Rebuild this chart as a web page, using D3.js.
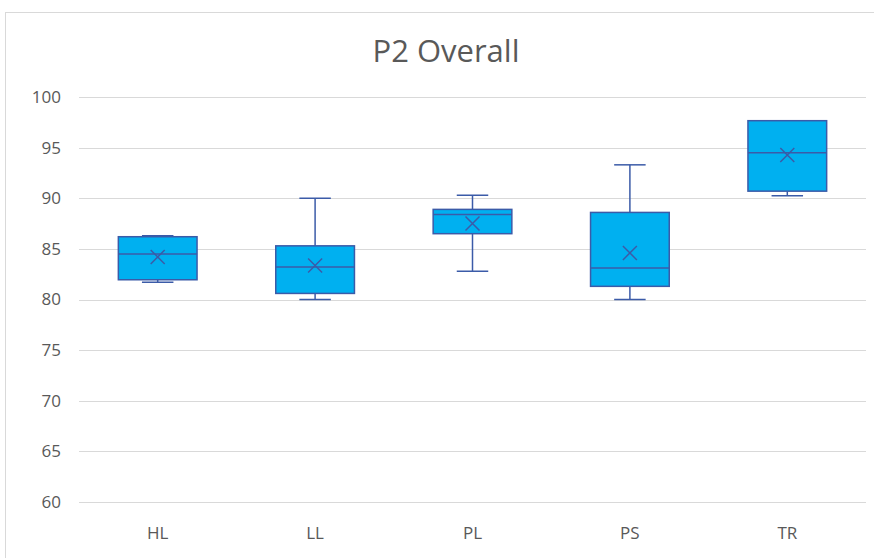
<!DOCTYPE html>
<html><head><meta charset="utf-8">
<script src="https://cdn.jsdelivr.net/npm/d3@7"></script>
<style>body{margin:0;background:#fff;} svg{display:block;}</style>
</head><body>
<svg id="c" width="874" height="558"></svg>
<script>
const categories = ["HL","LL","PL","PS","TR"];
const minVals    = [81.7, 80.0, 82.8, 80.0, 90.25];
const q1Vals     = [81.95, 80.6, 86.5, 81.3, 90.7];
const medianVals = [84.5, 83.2, 88.4, 83.1, 94.5];
const q3Vals     = [86.2, 85.3, 88.9, 88.6, 97.66];
const maxVals    = [86.3, 90.0, 90.3, 93.3, 97.66];
const meanVals   = [84.2, 83.35, 87.5, 84.6, 94.27];
const yTicks     = [60,65,70,75,80,85,90,95,100];
const title      = "P2 Overall";

(function(){
const svg = d3.select("#c");
const font = "'Open Sans', 'Noto Sans', sans-serif";
const textColor = "#595959";
const pLeft = 79, pRight = 866, pTop = 97, pBottom = 502;

svg.append("rect").attr("x",5.5).attr("y",12.5).attr("width",880).attr("height",560)
  .attr("fill","#fff").attr("stroke","#d9d9d9");

svg.append("text").attr("x",446).attr("y",62).attr("text-anchor","middle")
  .attr("font-family",font).attr("font-size",31).attr("fill",textColor).text(title);

const x = d3.scaleBand().domain(categories).range([pLeft,pRight]);
const y = d3.scaleLinear().domain([60,100]).range([pBottom,pTop]);

svg.append("g").selectAll("line").data(yTicks).join("line")
  .attr("x1",pLeft).attr("x2",pRight)
  .attr("y1",d=>Math.round(y(d))+0.5).attr("y2",d=>Math.round(y(d))+0.5)
  .attr("stroke","#d9d9d9").attr("stroke-width",1);

const yAxis = svg.append("g").attr("transform",`translate(${pLeft},0)`)
  .call(d3.axisLeft(y).tickValues(yTicks).tickSize(0).tickPadding(18));
yAxis.select(".domain").remove();
yAxis.selectAll("text").attr("font-family",font).attr("font-size",17).attr("fill",textColor);

const xAxis = svg.append("g").attr("transform",`translate(0,${pBottom})`)
  .call(d3.axisBottom(x).tickSize(0).tickPadding(25));
xAxis.select(".domain").remove();
xAxis.selectAll("text").attr("font-family",font).attr("font-size",17).attr("fill",textColor);

const stroke = "#3b5ba8";
const boxW = x.bandwidth()*0.5;
const capW = boxW*0.4;
const data = categories.map((c,i)=>({c,min:minVals[i],q1:q1Vals[i],med:medianVals[i],q3:q3Vals[i],max:maxVals[i],mean:meanVals[i]}));

const g = svg.append("g").selectAll("g").data(data).join("g")
  .attr("transform",d=>`translate(${x(d.c)+x.bandwidth()/2},0)`);

g.append("line").attr("x1",0).attr("x2",0).attr("y1",d=>y(d.max)).attr("y2",d=>y(d.q3))
  .attr("stroke",stroke).attr("stroke-width",1.5);
g.append("line").attr("x1",0).attr("x2",0).attr("y1",d=>y(d.q1)).attr("y2",d=>y(d.min))
  .attr("stroke",stroke).attr("stroke-width",1.5);
g.append("line").attr("x1",-capW/2).attr("x2",capW/2).attr("y1",d=>y(d.max)).attr("y2",d=>y(d.max))
  .attr("stroke",stroke).attr("stroke-width",1.5);
g.append("line").attr("x1",-capW/2).attr("x2",capW/2).attr("y1",d=>y(d.min)).attr("y2",d=>y(d.min))
  .attr("stroke",stroke).attr("stroke-width",1.5);

g.append("rect").attr("x",-boxW/2).attr("width",boxW)
  .attr("y",d=>y(d.q3)).attr("height",d=>y(d.q1)-y(d.q3))
  .attr("fill","#00b0f0").attr("stroke",stroke).attr("stroke-width",1.5);
g.append("line").attr("x1",-boxW/2).attr("x2",boxW/2).attr("y1",d=>y(d.med)).attr("y2",d=>y(d.med))
  .attr("stroke",stroke).attr("stroke-width",1.5);
const m = 7;
g.append("path").attr("d",d=>{const cy=y(d.mean);return `M${-m},${cy-m}L${m},${cy+m}M${-m},${cy+m}L${m},${cy-m}`;})
  .attr("stroke",stroke).attr("stroke-width",1.5).attr("fill","none");
})();
</script>
</body></html>
